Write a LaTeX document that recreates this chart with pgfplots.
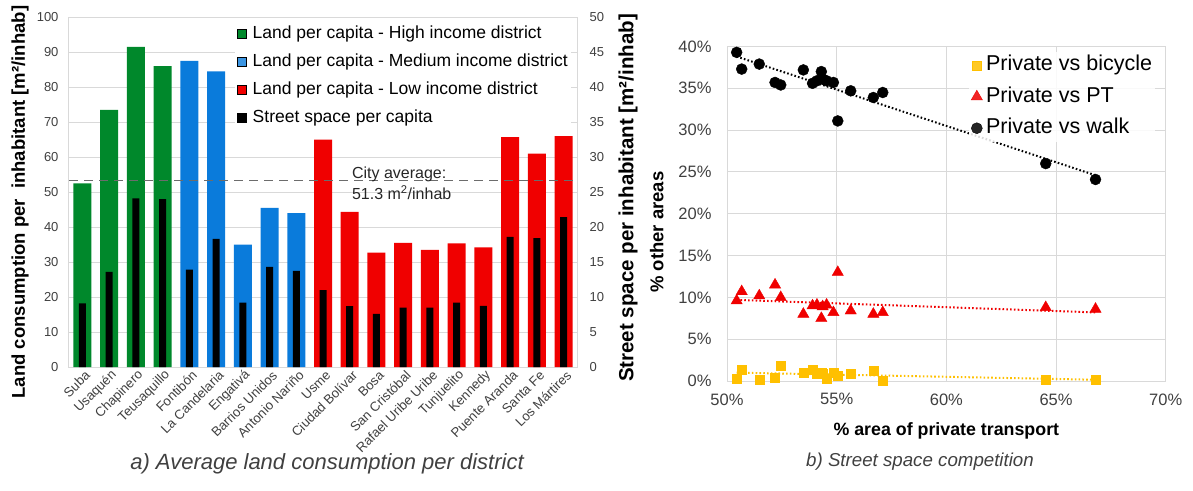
\documentclass[border=0pt]{standalone}
\usepackage{fontspec}
\setmainfont{Liberation Sans}
\usepackage{pgfplots}
\pgfplotsset{compat=1.18}
\definecolor{cgreen}{HTML}{00882B}
\definecolor{cblue}{HTML}{0A7BDB}
\definecolor{cred}{HTML}{F00000}
\definecolor{cyellow}{HTML}{FFC000}
\definecolor{gridgray}{HTML}{D9D9D9}
\definecolor{textgray}{HTML}{404040}
\begin{document}
\begin{tikzpicture}[x=1pt,y=1pt]
\path[use as bounding box] (0,0) rectangle (1193,-490);
% ---------------- left chart: land consumption ----------------
\begin{axis}[
  at={(69pt,-367pt)}, anchor=south west, scale only axis,
  width=508pt, height=350pt,
  xmin=-0.5, xmax=18.5, ymin=0, ymax=100,
  ytick={0,10,...,100}, xtick={0,...,18},
  xticklabels={Suba,Usaquén,Chapinero,Teusaquillo,Fontibón,La Candelaria,Engativá,Barrios Unidos,Antonio Nariño,Usme,Ciudad Bolívar,Bosa,San Cristóbal,Rafael Uribe Uribe,Tunjuelito,Kennedy,Puente Aranda,Santa Fe,Los Mártires},
  xticklabel style={rotate=45, anchor=east, font=\fontsize{13.2}{15}\selectfont, text=textgray, inner sep=2pt, yshift=-8pt, xshift=1.5pt},
  yticklabel style={font=\fontsize{13}{15}\selectfont, text=textgray, xshift=-7pt},
  /pgf/number format/assume math mode=true,
  major tick length=0pt,
  axis line style={draw=gridgray, line width=1pt},
  ymajorgrids, grid style={gridgray, line width=1pt},
  ybar, bar width=18pt,
  ylabel={Land consumption per\ \ inhabitant [m²/inhab]},
  every axis y label/.style={at={(axis description cs:-0.0965,0.471)}, rotate=90, anchor=center, font=\bfseries\fontsize{18.5}{20}\selectfont},
]
\addplot[fill=cgreen, draw=none, bar shift=0pt] coordinates {(0,52.5)(1,73.5)(2,91.5)(3,86)};
\addplot[fill=cblue, draw=none, bar shift=0pt] coordinates {(4,87.5)(5,84.5)(6,35)(7,45.5)(8,44)};
\addplot[fill=cred, draw=none, bar shift=0pt] coordinates {(9,65)(10,44.3)(11,32.7)(12,35.5)(13,33.5)(14,35.3)(15,34.2)(16,65.7)(17,61)(18,66)};
\draw[draw=gray!85!black, line width=1.1pt, dash pattern=on 9pt off 6pt] (axis cs:-0.5,53.3) -- (axis cs:18.5,53.3);
\node[anchor=north west, align=left, font=\fontsize{16}{21}\selectfont, text=black!85, inner sep=0pt] at (axis cs:10.08,57.2) {City average:\\51.3 m\textsuperscript{2}/inhab};
\end{axis}
\begin{axis}[
  at={(69pt,-367pt)}, anchor=south west, scale only axis,
  width=508pt, height=350pt,
  xmin=-0.5, xmax=18.5, ymin=0, ymax=50,
  ytick={0,5,...,50},
  axis x line=none, axis y line*=right, axis line style={draw=none},
  yticklabel style={font=\fontsize{13}{15}\selectfont, text=textgray, xshift=9pt},
  /pgf/number format/assume math mode=true,
  major tick length=0pt,
  ybar, bar width=7pt,
  ylabel={Street space per inhabitant [m²/inhab]},
  every axis y label/.style={at={(axis description cs:1.1004,0.483)}, rotate=90, anchor=center, font=\bfseries\fontsize{20.5}{22}\selectfont},
  legend image code/.code={\fill[#1] (0pt,-4.5pt) rectangle (9pt,4.5pt); \path (14pt,0pt);},
  legend style={at={(axis description cs:0.327,0.986)}, anchor=north west, draw=none, fill=white,
    font=\fontsize{17.5}{19}\selectfont, inner sep=2pt, row sep=9pt,
    nodes={inner sep=1pt, text height=13pt, text depth=4pt}, cells={anchor=west}},
]
\addlegendimage{fill=cgreen}
\addlegendentry{Land per capita - High income district}
\addlegendimage{fill=cblue!80!white}
\addlegendentry{Land per capita - Medium income district}
\addlegendimage{fill=cred}
\addlegendentry{Land per capita - Low income district}
\addlegendimage{fill=black}
\addlegendentry{Street space per capita}
\addplot[fill=black, draw=none, bar shift=0pt, forget plot] coordinates {
(0,9.1)(1,13.6)(2,24.1)(3,24.0)(4,13.9)(5,18.3)(6,9.2)(7,14.3)(8,13.75)(9,11.0)
(10,8.7)(11,7.6)(12,8.5)(13,8.5)(14,9.2)(15,8.75)(16,18.6)(17,18.4)(18,21.4)};
\end{axis}
% ---------------- right chart: street space competition ----------------
\begin{axis}[
  at={(727pt,-381pt)}, anchor=south west, scale only axis,
  width=438.7pt, height=334.5pt,
  xmin=50, xmax=70, ymin=0, ymax=40,
  xtick={50,55,...,70}, ytick={0,5,...,40},
  xticklabel={\pgfmathprintnumber{\tick}\%}, yticklabel={\pgfmathprintnumber{\tick}\%},
  /pgf/number format/assume math mode=true,
  ticklabel style={font=\fontsize{16.5}{18}\selectfont, text=textgray},
  xticklabel style={yshift=-9pt},
  yticklabel style={xshift=-12pt},
  grid=major, grid style={gridgray, line width=1pt},
  axis line style={draw=gridgray, line width=1pt},
  major tick length=0pt,
  xlabel={\% area of private transport}, ylabel={\% other areas},
  every axis x label/.style={at={(axis description cs:0.5,-0.149)}, anchor=center, font=\bfseries\fontsize{17.8}{20}\selectfont},
  every axis y label/.style={at={(axis description cs:-0.16,0.445)}, rotate=90, anchor=center, font=\bfseries\fontsize{18.5}{20}\selectfont},
  legend style={at={(axis description cs:0.5516,0.985)}, anchor=north west, draw=none, fill=white, fill opacity=0.85, text opacity=1,
    font=\fontsize{21.5}{23}\selectfont, inner sep=2pt, row sep=8.5pt,
    nodes={inner sep=1pt, text height=16pt, text depth=5pt}, cells={anchor=west}},
  legend image code/.code={\draw[#1] plot coordinates {(5pt,0pt)}; \path (0pt,0pt) (13pt,0pt);},
]
\addplot[only marks, mark=square*, mark size=4.5pt, color=cyellow] coordinates {
(50.44,0.3)(50.67,1.3)(51.47,0.2)(52.19,0.45)(52.45,1.8)(53.48,1.0)(53.90,1.3)(54.10,0.85)(54.30,1.0)
(54.36,0.85)(54.54,0.25)(54.85,1.05)(55.05,0.65)(55.64,0.9)(56.67,1.25)(57.10,0.05)(64.53,0.2)(66.80,0.1)};
\addlegendentry{Private vs bicycle}
\addplot[only marks, mark=triangle*, mark size=6.5pt, color=cred] coordinates {
(50.44,9.6)(50.67,10.7)(51.47,10.2)(52.19,11.5)(52.45,10.0)(53.48,8.0)(53.90,9.0)(54.10,9.1)(54.30,7.5)
(54.36,8.9)(54.54,9.1)(54.85,8.2)(55.05,13.0)(55.64,8.4)(56.67,8.0)(57.10,8.2)(64.53,8.8)(66.80,8.6)};
\addlegendentry{Private vs PT}
\addplot[only marks, mark=*, mark size=5.5pt, color=black] coordinates {
(50.44,39.3)(50.67,37.3)(51.47,37.9)(52.19,35.7)(52.45,35.4)(53.48,37.2)(53.90,35.6)(54.10,35.9)(54.30,37.0)
(54.36,36.1)(54.54,35.9)(54.85,35.7)(55.05,31.1)(55.64,34.7)(56.67,33.9)(57.10,34.5)(64.53,26.0)(66.80,24.1)};
\addlegendentry{Private vs walk}
\addplot[no marks, color=cyellow, line width=2pt, dash pattern=on 1.6pt off 2.2pt, forget plot] coordinates {(50.44,1.0)(66.8,0.15)};
\addplot[no marks, color=cred, line width=2pt, dash pattern=on 1.6pt off 2.2pt, forget plot] coordinates {(50.44,9.7)(66.8,8.2)};
\addplot[no marks, color=black, line width=2pt, dash pattern=on 1.6pt off 2.2pt, forget plot] coordinates {(50.44,38.8)(66.8,24.6)};
\end{axis}
\node[font=\itshape\fontsize{22}{24}\selectfont, text=textgray] at (327,-464) {a) Average land consumption per district};
\node[font=\itshape\fontsize{18.7}{21}\selectfont, text=textgray] at (920,-462) {b) Street space competition};
\end{tikzpicture}
\end{document}
